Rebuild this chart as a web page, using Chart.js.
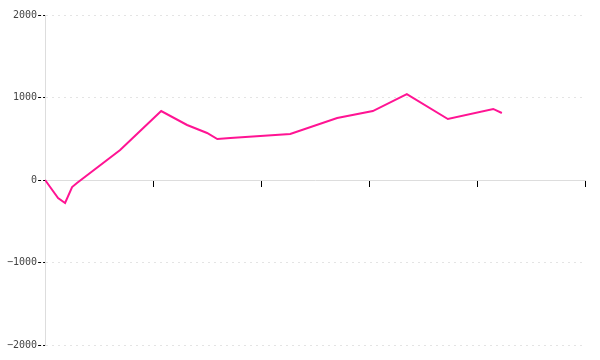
<!DOCTYPE html>
<html>
<head>
<meta charset="utf-8">
<script src="https://cdn.jsdelivr.net/npm/chart.js@4/dist/chart.umd.min.js"></script>
<style>
  html, body { margin: 0; padding: 0; background: #fff; }
  #wrap { width: 600px; height: 360px; }
</style>
</head>
<body>
<div id="wrap"><canvas id="balance_chart"></canvas></div>
<script>
// values
const x_values = [0, 2.4, 3.7, 5.0, 5.9, 13.9, 17.6, 21.5, 26.3, 30.0, 31.9, 34.3, 45.4, 54.1, 60.7, 67.0, 74.6, 83.0, 84.6]
const y_values = [0, -218, -279, -85, -36, 364, 594, 836, 667, 570, 497, 509, 558, 752, 836, 1042, 739, 861, 812]
const y_ticks = [-2000, -1000, 0, 1000, 2000]

function load_balance_chart()
{
    const ctx = document.getElementById('balance_chart').getContext('2d')

    new Chart(ctx,
        {
            type: 'line',
            data: {
                datasets: [{
                    data: x_values.map((x, i) => ({x: x, y: y_values[i]})),
                    borderColor: '#ff1493',
                    borderWidth: 2,
                    pointRadius: 0,
                    tension: 0,
                    fill: false
                }]
            },
            options: {
                responsive: true,
                maintainAspectRatio: false,
                animation: false,
                layout: { padding: { top: 15, right: 15, left: 6, bottom: 15 } },
                plugins: {
                    legend: { display: false },
                    tooltip: { enabled: false }
                },
                scales: {
                    x: {
                        type: 'linear',
                        position: { y: 0 },
                        min: 0,
                        max: 100,
                        ticks: { display: false, stepSize: 20 },
                        border: { color: '#dddddd', width: 1 },
                        grid: {
                            drawOnChartArea: false,
                            drawTicks: true,
                            tickLength: 6,
                            tickColor: '#000000',
                            tickWidth: 1
                        }
                    },
                    y: {
                        min: y_ticks[0],
                        max: y_ticks[y_ticks.length - 1],
                        afterBuildTicks: axis => { axis.ticks = y_ticks.map(v => ({value: v})) },
                        ticks: {
                            padding: 1,
                            color: '#444444',
                            font: { family: 'DejaVu Sans Mono', size: 10 },
                            callback: v => String(v).replace('-', '\u2212')
                        },
                        border: { color: '#dddddd', width: 1, dash: [2, 4] },
                        grid: {
                            color: '#e4e4e4',
                            tickLength: 7,
                            tickColor: '#000000',
                            tickBorderDash: [3, 2]
                        }
                    }
                }
            }
        }
    )
}

load_balance_chart()
</script>
</body>
</html>
